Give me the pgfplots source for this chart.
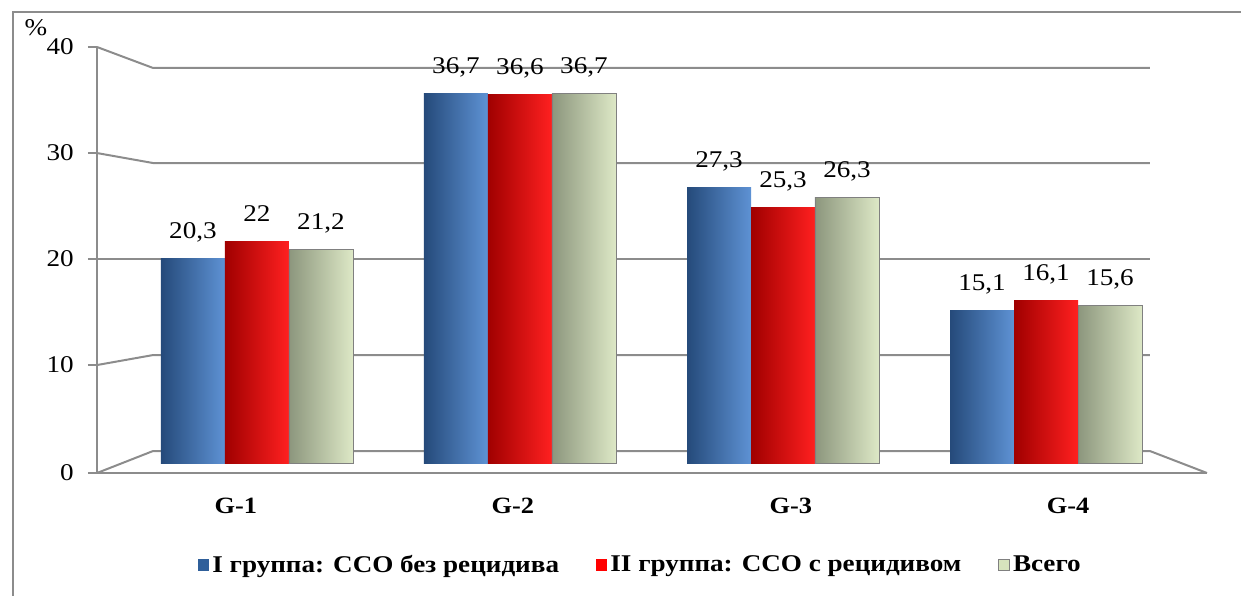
\documentclass[border=0pt]{standalone}
\usepackage{fontspec}
\setmainfont{Liberation Serif}[FakeStretch=1.13]
\usepackage{pgfplots}
\pgfplotsset{compat=1.18}
\definecolor{gridgray}{HTML}{8C8C8C}
\definecolor{bA}{HTML}{254A7A}
\definecolor{bB}{HTML}{3E6DAE}
\definecolor{bC}{HTML}{5E92D4}
\definecolor{rA}{HTML}{A00000}
\definecolor{rB}{HTML}{E60000}
\definecolor{rC}{HTML}{FF2020}
\definecolor{gA}{HTML}{8C967D}
\definecolor{gB}{HTML}{C6D2AE}
\definecolor{gC}{HTML}{DDE8C6}
\definecolor{legblue}{HTML}{2F5F9A}
\definecolor{leggreen}{HTML}{D7E4BD}
\pgfplotsset{
  bluebar/.style={ybar, bar width=0.2433, bar shift=0, draw=none, left color=bA, middle color=bB, right color=bC, forget plot},
  redbar/.style={ybar, bar width=0.2433, bar shift=0, draw=none, left color=rA, middle color=rB, right color=rC, forget plot},
  greenbar/.style={ybar, bar width=0.2433, bar shift=0, draw=gray, line width=0.5pt, left color=gA, middle color=gB, right color=gC, forget plot},
}
\begin{document}
\begin{tikzpicture}
\useasboundingbox (0,0) rectangle (744.6pt,357pt);
\draw[gridgray, line width=1.2pt] (7.8pt,-1pt) -- (7.8pt,349.8pt) -- (746pt,349.8pt);
\node[font=\fontsize{14.4}{16}\selectfont] at (21.6pt,340.2pt) {\%};
\begin{axis}[
  at={(58.2pt,73.2pt)}, anchor=south west,
  scale only axis, width=666pt, height=255.6pt,
  xmin=-0.608, xmax=3.612, ymin=-0.99, ymax=41.27,
  clip=false,
  axis lines=left, axis line style={-, draw=gridgray, line width=1.2pt},
  ytick={-0.99,9.72,20.24,30.75,41.27}, yticklabels={0,10,20,30,40},
  ytick style={draw=gridgray, line width=1.2pt},
  tick align=outside, major tick length=5.4pt,
  xtick={-0.08,0.973,2.03,3.084}, xticklabels={G-1,G-2,G-3,G-4},
  xtick style={draw=none},
  extra x ticks={-0.608,0.447,1.502,2.557,3.612}, extra x tick labels={},
  extra x tick style={tick style={draw=gridgray, line width=1.2pt}, grid=none},
  yticklabel style={font=\fontsize{14.4}{16}\selectfont, xshift=-5pt},
  xticklabel style={font=\bfseries\fontsize{14}{16}\selectfont, yshift=-6pt},
  /pgf/number format/.cd, use comma, fixed, precision=1, assume math mode=true,
  /pgfplots/.cd,
  nodes near coords,
  nodes near coords style={font=\fontsize{14.4}{16}\selectfont, anchor=base, yshift=12pt, text=black},
  legend style={at={(0.49,-0.216)}, anchor=center, draw=none, fill=none,
    font=\bfseries\fontsize{14.4}{16}\selectfont,
    /tikz/every even column/.append style={column sep=20pt}},
  legend columns=-1, legend cell align=left,
]
\addlegendimage{legend image code/.code={\fill[legblue] (0pt,-3.2pt) rectangle (6.4pt,3.2pt);}}
\addlegendentry{I группа: ССО без рецидива}
\addlegendimage{legend image code/.code={\fill[red] (0pt,-3.2pt) rectangle (6.4pt,3.2pt);}}
\addlegendentry{II группа: ССО с рецидивом}
\addlegendimage{legend image code/.code={\filldraw[fill=leggreen, draw=gray, line width=0.6pt] (0pt,-3.2pt) rectangle (6.4pt,3.2pt);}}
\addlegendentry{Всего}
\draw[gridgray, line width=1.2pt] (axis cs:-0.608,-0.99) -- (axis cs:-0.395,1.19) -- (axis cs:3.395,1.19) -- (axis cs:3.612,-0.99);
\draw[gridgray, line width=1.2pt] (axis cs:-0.608,9.72) -- (axis cs:-0.395,10.71) -- (axis cs:3.395,10.71);
\draw[gridgray, line width=1.2pt] (axis cs:-0.608,20.24) -- (axis cs:-0.395,20.24) -- (axis cs:3.395,20.24);
\draw[gridgray, line width=1.2pt] (axis cs:-0.608,30.75) -- (axis cs:-0.395,29.76) -- (axis cs:3.395,29.76);
\draw[gridgray, line width=1.2pt] (axis cs:-0.608,41.27) -- (axis cs:-0.395,39.19) -- (axis cs:3.395,39.19);
% I группа (blue)
\addplot[bluebar] coordinates {(-0.2433,20.3)};
\addplot[bluebar] coordinates {(0.7567,36.7)};
\addplot[bluebar] coordinates {(1.7567,27.3)};
\addplot[bluebar] coordinates {(2.7567,15.1)};
% II группа (red)
\addplot[redbar] coordinates {(0,22)};
\addplot[redbar] coordinates {(1,36.6)};
\addplot[redbar] coordinates {(2,25.3)};
\addplot[redbar] coordinates {(3,16.1)};
% Всего (green)
\addplot[greenbar] coordinates {(0.2433,21.2)};
\addplot[greenbar] coordinates {(1.2433,36.7)};
\addplot[greenbar] coordinates {(2.2433,26.3)};
\addplot[greenbar] coordinates {(3.2433,15.6)};
\end{axis}
\end{tikzpicture}
\end{document}
